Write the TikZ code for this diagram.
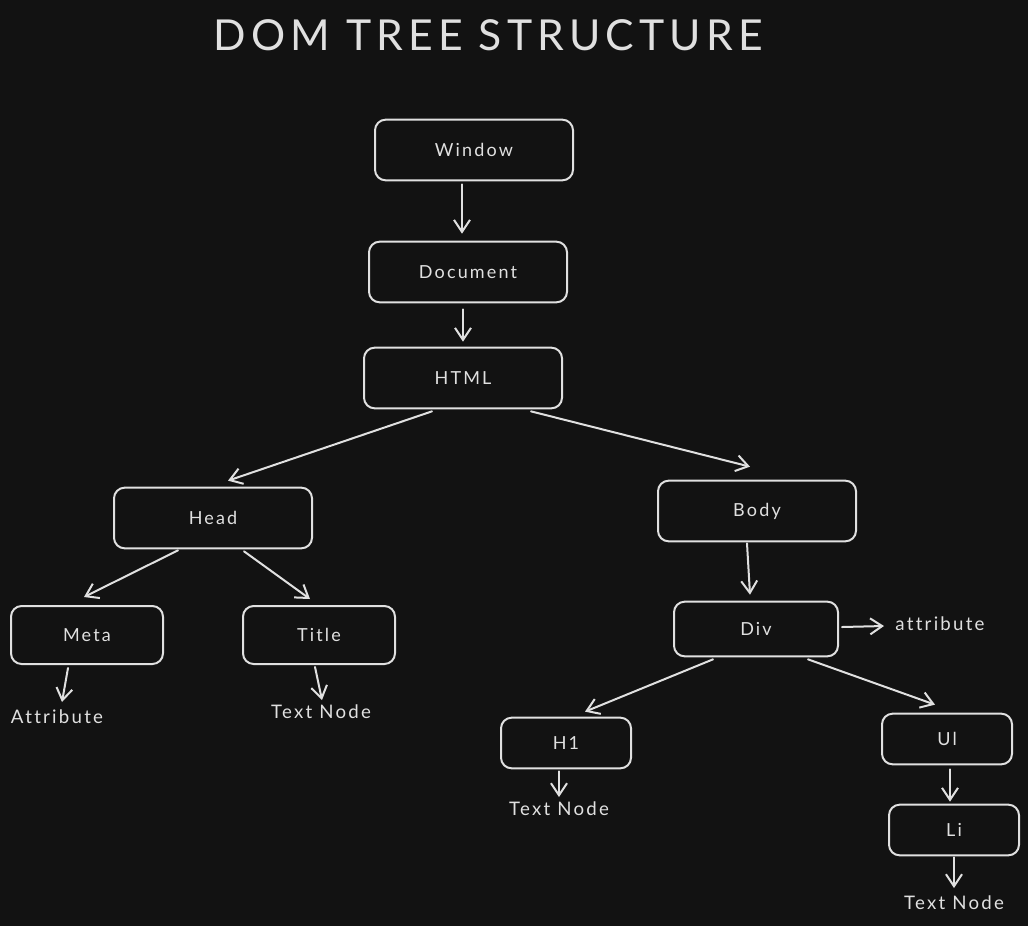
\documentclass[tikz,border=0pt]{standalone}
\usepackage{fontspec}
\setmainfont{Lato}[LetterSpace=12,Ligatures=NoCommon]
\usetikzlibrary{arrows.meta,calc}
\definecolor{bg}{HTML}{121212}
\definecolor{ink}{HTML}{E0E0E0}
\begin{document}
\begin{tikzpicture}[x=0.75pt,y=-0.75pt,
    box/.style={draw=ink,line width=1.5pt,rounded corners=8pt,inner sep=0pt,
      minimum width=148.5pt,minimum height=45.5pt,text=ink,
      font=\fontsize{13.5}{15}\selectfont},
    midbox/.style={box,minimum width=114pt,minimum height=43.5pt},
    divbox/.style={box,minimum width=123pt,minimum height=41pt},
    smallbox/.style={box,minimum width=97.5pt,minimum height=38pt},
    lbl/.style={text=ink,inner sep=0pt,font=\fontsize{14}{16}\selectfont},
    arr/.style={draw=ink,line width=1.5pt,line cap=round,
      -{Straight Barb[length=9pt,width=12pt,line width=1.5pt]}}]
  \fill[bg] (0,0) rectangle (1028,926);
  \useasboundingbox (0,0) rectangle (1028,926);
  \node[text=ink,font=\fontsize{32}{36}\selectfont] (heading) at (488,35) {DOM TREE STRUCTURE};
  \node[box] (window) at (474,150) {Window};
  \node[box] (document) at (468,272) {Document};
  \node[box] (html) at (463,378) {HTML};
  \node[box] (head) at (213,518) {Head};
  \node[box] (body) at (757,511) {Body};
  \node[midbox] (meta) at (87,635) {Meta};
  \node[midbox] (title) at (319,635) {Title};
  \node[divbox] (div) at (756,629) {Div};
  \node[smallbox] (h1) at (566,743) {H1};
  \node[smallbox] (ul) at (947,739) {Ul};
  \node[smallbox] (li) at (954,830) {Li};
  \node[lbl] (metaattr) at (57,717) {Attribute};
  \node[lbl] (titletext) at (321,712) {Text Node};
  \node[lbl] (divattr) at (940,624) {attribute};
  \node[lbl] (h1text) at (559,809) {Text Node};
  \node[lbl] (litext) at (954,903) {Text Node};
  \begin{scope}[arr]
    \draw ($(window.south)+(-12,3)$) -- ($(document.north)+(-6,-7)$);
    \draw ($(document.south)+(-5,6)$) -- ($(html.north)+(0,-5)$);
    \draw ($(html.south)+(-31,2)$) -- ($(head.north)+(15,-6)$);
    \draw ($(html.south)+(68,2)$) -- ($(body.north)+(-7,-13)$);
    \draw ($(head.south)+(-35,1)$) -- ($(meta.north)+(-3,-8)$);
    \draw ($(head.south)+(31,2)$) -- ($(title.north)+(-9,-6)$);
    \draw ($(body.south)+(-10,1)$) -- ($(div.north)+(-6,-6)$);
    \draw ($(meta.south)+(-19,3)$) -- ($(metaattr)+(5,-15)$);
    \draw ($(title.south)+(-4,2)$) -- ($(titletext)+(1,-12)$);
    \draw ($(div.east)+(3,-2)$) -- ($(divattr)+(-56,2)$);
    \draw ($(div.south)+(-43,2)$) -- ($(h1.north)+(19,-5)$);
    \draw ($(div.south)+(52,2)$) -- ($(ul.north)+(-12,-8)$);
    \draw ($(h1.south)+(-7,2)$) -- ($(h1text)+(0,-12)$);
    \draw ($(ul.south)+(3,4)$) -- ($(li.north)+(-4,-2)$);
    \draw ($(li.south)+(0,1)$) -- ($(litext)+(0,-15)$);
  \end{scope}
\end{tikzpicture}
\end{document}
